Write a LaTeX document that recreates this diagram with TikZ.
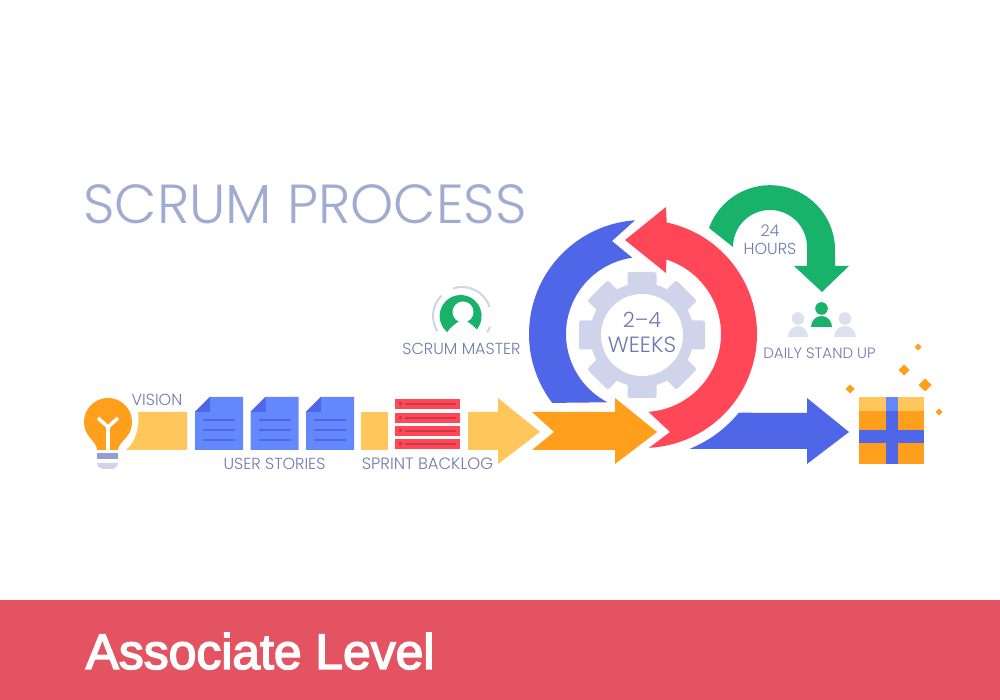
\documentclass[tikz,border=0pt]{standalone}
\usepackage{fontspec}
\setmainfont{Poppins Light}
\newfontfamily\bannerfont[FakeBold=3]{Liberation Sans}
\usetikzlibrary{calc}
\definecolor{scblue}{HTML}{5066E8}
\definecolor{scdoc}{HTML}{6288FB}
\definecolor{scred}{HTML}{FF4757}
\definecolor{scgreen}{HTML}{19B26B}
\definecolor{scorange}{HTML}{FF9F1C}
\definecolor{scyellow}{HTML}{FFC65C}
\definecolor{scgear}{HTML}{CFD4EA}
\definecolor{scpale}{HTML}{DDE0EF}
\definecolor{sctext}{HTML}{6F79AE}
\definecolor{sctitle}{HTML}{A0ABD2}
\definecolor{scbanner}{HTML}{E45361}
\tikzset{
  label text/.style={text=sctext,inner sep=0pt,font=\fontsize{16}{16}\selectfont},
}

\begin{document}
\begin{tikzpicture}[x=1pt,y=1pt]
  \useasboundingbox (0,0) rectangle (1000,700);
  \coordinate (loopc) at (643,366);
  \coordinate (gear) at (642,365);

  \fill[scbanner] (0,0) rectangle (1000,100);
  \node[anchor=base west,inner sep=0pt,text=white,font=\bannerfont\fontsize{49.8}{50}\selectfont] (level) at (85.5,31) {Associate Level};
  \node[anchor=base west,inner sep=0pt,text=sctitle,font=\fontsize{55}{55}\selectfont] (title) at (83,476) {SCRUM PROCESS};

  % bulb
  \fill[scorange] (126.4,262.6) arc[start angle=-40,end angle=220,radius=24]
    .. controls (94,258) and (97,254) .. (97,250) -- (118,250)
    .. controls (118,254) and (122,258) .. (126.4,262.6) -- cycle;
  \draw[white,line width=3.5pt] (98,282) -- (108,273) -- (118,282);
  \draw[white,line width=3.5pt] (108,273) -- (108,250);
  \fill[sctext!75!scblue!70] (97,247) rectangle (118,241);
  \fill[scgear] (97,237) -- (118,237) .. controls (118,233) and (114,231) .. (111,231)
    -- (104,231) .. controls (101,231) and (97,233) .. (97,237) -- cycle;
  \fill[scyellow] (138,288) -- (187,288) -- (187,250) -- (126,250)
    .. controls (135,257) and (140,272) .. (138,288) -- cycle;
  \node[label text] (vision) at (157,300) {VISION};

  % stories
  \foreach \x in {195,250.5,306}
  {
    \fill[scdoc] ($(\x,303)+(15,0)$) -- ($(\x,303)+(48,0)$) -- ($(\x,250)+(48,0)$) -- (\x,250) -- (\x,288) -- cycle;
    \fill[scblue] ($(\x,303)+(15,0)$) -- ($(\x,288)+(15,0)$) -- (\x,288) -- cycle;
    \foreach \y in {280,270,260}
    \draw[scblue,line width=2pt] ($(\x,\y)+(8,0)$) -- ($(\x,\y)+(40,0)$);
  }
  \node[label text] (stories) at (274.5,236) {USER STORIES};

  % backlog
  \fill[scyellow] (361,288) rectangle (388,250);
  \foreach \y in {291,277,264,251}
  {
    \fill[scred] (395,\y) rectangle (460,\y+10);
    \draw[scred!80!black,line width=1.2pt] (405,\y+5) -- (456,\y+5);
    \fill[scred!80!black] (399,\y+3.5) rectangle (402,\y+6.5);
  }
  \node[label text,font=\fontsize{16.4}{16}\selectfont] (backlog) at (427.5,236) {SPRINT BACKLOG};

  % straight arrows
  \fill[scyellow] (468,288) -- (498,288) -- (498,302) -- (540,268) -- (498,236) -- (498,250) -- (468,250) -- cycle;
  \fill[scorange] (532,288) -- (615,288) -- (615,302) -- (657,268) -- (615,236) -- (615,250) -- (532,250) -- (554,268) -- cycle;
  \fill[scblue] ($(loopc)+(-67.8:124)$) arc[start angle=-67.8,end angle=-39.4,radius=124]
    -- (807,287) -- (807,302) -- (849,268) -- (807,236) -- (807,251) -- cycle;

  % sprint loop
  \fill[scblue] ($(loopc)+(217.2:114)$) arc[start angle=217.2,end angle=94,radius=114]
    -- (612,459) -- ($(loopc)+(98:77)$) arc[start angle=98,end angle=242.5,radius=77] -- cycle;
  \fill[scred] (625,460) -- (666,493) -- ($(loopc)+(78:114)$) arc[start angle=78,end angle=-87,radius=114]
    -- (670,268) -- ($(loopc)+(-86:78)$) arc[start angle=-86,end angle=72.5,radius=78] -- (666,427) -- cycle;

  % gear
  \foreach \a in {0,45,...,315}
  \fill[scgear,rounded corners=2pt,shift={(gear)},rotate=\a] (-14.5,40) rectangle (14.5,63);
  \fill[scgear] (gear) circle[radius=52];
  \fill[white] (gear) circle[radius=41];
  \node[label text,font=\fontsize{21}{21}\selectfont] (weeksa) at (642,380) {2--4};
  \node[label text,font=\fontsize{22}{22}\selectfont] (weeksb) at (642,355) {WEEKS};

  % master
  \fill[scgreen] (447,368) arc[start angle=229.5,end angle=-49.5,radius=21] -- cycle;
  \fill[white] (463,388) circle[radius=10.5];
  \fill[white] (447,367) .. controls (451,374) and (456,376) .. (458,378) -- (468,378)
    .. controls (470,376) and (475,374) .. (479,367) -- cycle;
  \draw[scgear,line width=2pt] (462,384) ++(135:29) arc[start angle=135,end angle=212,radius=29];
  \draw[scgear,line width=2pt] (462,384) ++(108:29) arc[start angle=108,end angle=18,radius=29];
  \draw[scgear,line width=2pt] (462,384) ++(-21:30) arc[start angle=-21,end angle=-33,radius=30];
  \node[label text] (master) at (461.5,351) {SCRUM MASTER};

  % hours
  \fill[scgreen] (709,472) arc[start angle=160,end angle=0,radius=65] -- (835,434) -- (849,434)
    -- (822,408) -- (794,434) -- (807,434) -- (807,453) arc[start angle=0,end angle=180,radius=37] -- cycle;
  \node[label text] (hoursa) at (770,469) {24};
  \node[label text] (hoursb) at (770,451) {HOURS};

  % stand up
  \foreach \x/\yb/\w/\c in {798/363/10/scpale,845/363/11/scpale,821.5/373/10.5/scgreen}
  {
    \fill[\c] (\x,\yb+18.5) circle[radius=6.3];
    \fill[\c] ($(\x,\yb)-(\w,0)$) arc[start angle=180,end angle=0,x radius=\w,y radius=11] -- cycle;
  }
  \node[label text,font=\fontsize{15}{16}\selectfont] (standup) at (819.5,347) {DAILY STAND UP};

  % box
  \fill[scorange] (859,236) rectangle (924,289);
  \fill[scyellow] (859,289) rectangle (924,303);
  \fill[scblue] (886,236) rectangle (898,289);
  \fill[scblue] (859,257) rectangle (924,270);
  \fill[scdoc] (886,289) rectangle (898,303);
  \foreach \x/\y/\r in {918/353/3.5,904/330/5.5,925/315/6.5,850/311/4.5,939/288/3.5}
  \fill[scorange] (\x-\r,\y) -- (\x,\y+\r) -- (\x+\r,\y) -- (\x,\y-\r) -- cycle;
\end{tikzpicture}
\end{document}
